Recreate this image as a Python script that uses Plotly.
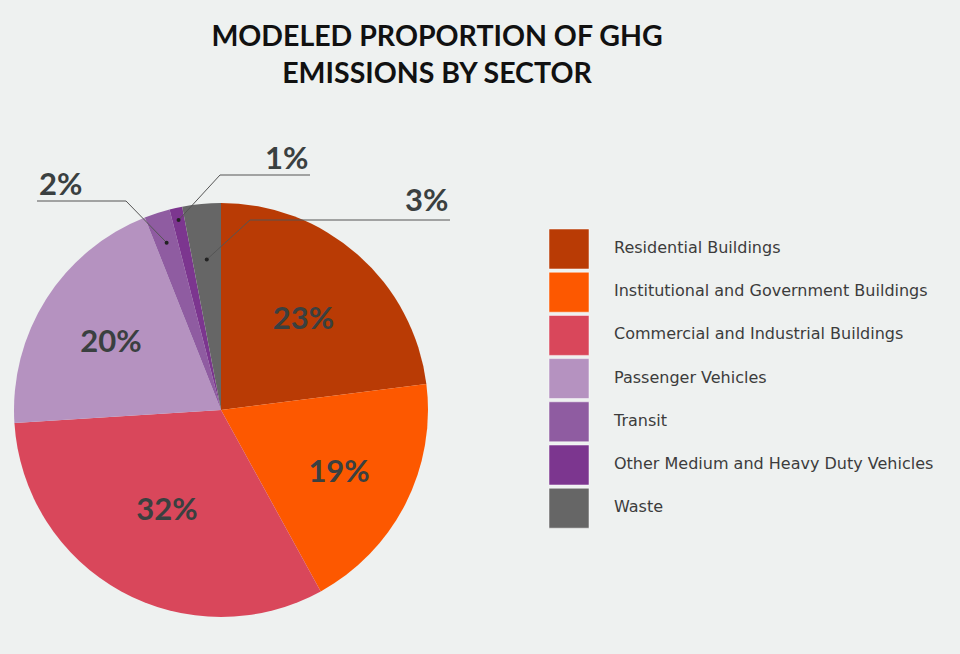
import math
import plotly.graph_objects as go

# data
sectors = [
    "Residential Buildings",
    "Institutional and Government Buildings",
    "Commercial and Industrial Buildings",
    "Passenger Vehicles",
    "Transit",
    "Other Medium and Heavy Duty Vehicles",
    "Waste",
]
shares = [23, 19, 32, 20, 2, 1, 3]
colors = ["#b93b05", "#fd5800", "#d9475b", "#b592c0", "#8f5ca1", "#7c368f", "#666666"]
small = [False, False, False, False, True, True, True]

W, H = 960, 654
BG = "#eef1f0"
TXT = "#3a4040"

# pie geometry (px)
cx, cy, R = 221, 410, 207

fig = go.Figure()

fig.add_trace(go.Pie(
    labels=sectors,
    values=shares,
    sort=False,
    direction="clockwise",
    rotation=0,
    marker=dict(colors=colors, line=dict(width=0)),
    texttemplate=["" if s else "%{percent:.0%}" for s in small],
    textposition="inside",
    insidetextorientation="horizontal",
    textfont=dict(family="Lato", size=31, color=TXT, weight="bold"),
    domain=dict(x=[(cx - R) / W, (cx + R) / W],
                y=[(H - cy - R) / H, (H - cy + R) / H]),
    hoverinfo="label+percent",
    showlegend=False,
))

# legend drawn as squares + labels on a hidden axis
fig.add_trace(go.Scatter(
    x=[0] * len(sectors), y=sectors, mode="markers",
    marker=dict(symbol="square", size=40, color=colors,
                line=dict(width=1, color="rgba(255,255,255,0.5)")),
    hoverinfo="skip", showlegend=False,
))
fig.add_trace(go.Scatter(
    x=[45] * len(sectors), y=sectors, mode="text",
    text=sectors, textposition="middle right",
    textfont=dict(family="DejaVu Sans", size=16, color="#3c3c3c"),
    hoverinfo="skip", showlegend=False,
))

# outside labels for the small slices, leader lines start inside each slice
label_pos = {4: (37, 126, 183), 5: (310, 220, 157), 6: (450, 250, 199)}
dot_r = {4: 0.85, 5: 0.94, 6: 0.73}
total = sum(shares)
px = lambda x: x / W
py = lambda y: 1 - y / H
cum = 0
for i, v in enumerate(shares):
    mid = (cum + v / 2) / total * 2 * math.pi
    cum += v
    if not small[i]:
        continue
    dx = cx + dot_r[i] * R * math.sin(mid)
    dy = cy - dot_r[i] * R * math.cos(mid)
    end_x, elbow_x, text_y = label_pos[i]
    line_y = text_y + (21 if i == 6 else 18)
    anchor = "left" if end_x < elbow_x else "right"
    fig.add_shape(type="path", xref="paper", yref="paper",
                  path=f"M{px(dx)},{py(dy)} L{px(elbow_x)},{py(line_y)} L{px(end_x)},{py(line_y)}",
                  line=dict(color="#555555", width=1))
    fig.add_shape(type="circle", xref="paper", yref="paper",
                  x0=px(dx - 2), x1=px(dx + 2), y0=py(dy + 2), y1=py(dy - 2),
                  fillcolor="#222222", line=dict(width=0))
    fig.add_annotation(x=px(end_x), y=py(text_y), xref="paper", yref="paper",
                       text=f"<b>{v}%</b>", showarrow=False, xanchor=anchor, yanchor="middle",
                       font=dict(family="Lato", size=31, color=TXT))

fig.update_layout(
    width=W, height=H,
    margin=dict(l=0, r=0, t=0, b=0),
    paper_bgcolor=BG, plot_bgcolor=BG,
    title=dict(text="<b>MODELED PROPORTION OF GHG<br>EMISSIONS BY SECTOR</b>",
               x=437 / W, xanchor="center", y=1 - 46 / H, yanchor="middle",
               font=dict(family="Lato", size=28.5, color="#111111")),
    xaxis=dict(domain=[0.5, 1.0], range=[-89, 391], visible=False, fixedrange=True),
    yaxis=dict(domain=[(H - 529.8) / H, (H - 227.4) / H], range=[6.5, -0.5],
               type="category", visible=False, fixedrange=True),
)

fig.write_html("out.html", config={"displayModeBar": False},
               post_script="document.body.style.margin='0';")
